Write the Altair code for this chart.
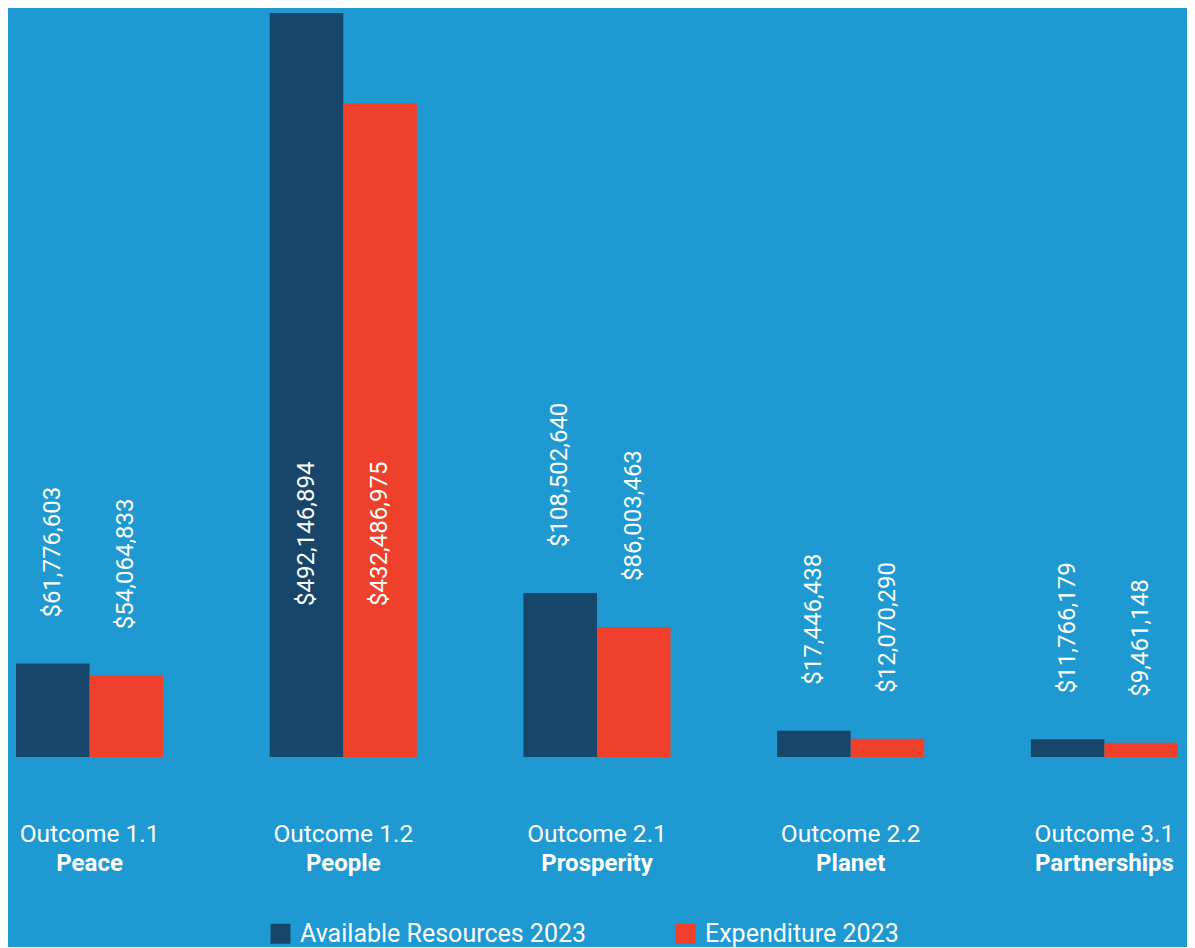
import altair as alt
import pandas as pd

outcomes = ["Outcome 1.1", "Outcome 1.2", "Outcome 2.1", "Outcome 2.2", "Outcome 3.1"]
names = ["Peace", "People", "Prosperity", "Planet", "Partnerships"]
available = [61776603, 492146894, 108502640, 17446438, 11766179]
expenditure = [54064833, 432486975, 86003463, 12070290, 9461148]
series = ["Available Resources 2023", "Expenditure 2023"]
colors = ["#17466a", "#ef402b"]

rows = []
for o, n, a, e in zip(outcomes, names, available, expenditure):
    rows.append(dict(outcome=o, name=n, series=series[0], value=a))
    rows.append(dict(outcome=o, name=n, series=series[1], value=e))
df = pd.DataFrame(rows)
cats = pd.DataFrame({"outcome": outcomes, "name": names})

FONT = "Roboto"
xscale = alt.Scale(domain=outcomes, paddingInner=0.42, paddingOuter=0)
x = alt.X("outcome:N", scale=xscale, axis=None)
xoff = alt.XOffset("series:N", scale=alt.Scale(domain=series, paddingInner=0, paddingOuter=0))
yscale = alt.Scale(domain=[0, 492146894], nice=False, zero=True)

color = alt.Color(
    "series:N",
    scale=alt.Scale(domain=series, range=colors),
    legend=alt.Legend(
        title=None, orient="none", legendX=252, legendY=908,
        direction="horizontal", symbolType="square", symbolSize=400,
        symbolStrokeWidth=0, symbolOpacity=1,
        labelFont=FONT, labelFontSize=25, labelColor="white",
        labelOffset=7, labelLimit=400, columnPadding=86, padding=0,
    ),
)

bars = alt.Chart(df).mark_bar(strokeWidth=0, opacity=1).encode(
    x=x, xOffset=xoff,
    y=alt.Y("value:Q", scale=yscale, axis=None),
    color=color,
)

labels = alt.Chart(df).transform_calculate(
    lab="'$' + format(datum.value, ',')",
    ypos="datum.value > 200000000 ? 69500000 : datum.value",
).mark_text(
    angle=270, align="left", baseline="middle", dx=46,
    font=FONT, fontSize=24, color="white",
).encode(
    x=x, xOffset=xoff,
    y=alt.Y("ypos:Q", scale=yscale, axis=None),
    text="lab:N",
)

cat1 = alt.Chart(cats).mark_text(
    font=FONT, fontSize=24.5, color="white", baseline="alphabetic", align="center"
).encode(x=x, y=alt.value(829), text="outcome:N")

cat2 = alt.Chart(cats).mark_text(
    font=FONT, fontSize=24, fontWeight="bold", color="white", baseline="alphabetic", align="center"
).encode(x=x, y=alt.value(858), text="name:N")

chart = alt.layer(bars, labels, cat1, cat2).properties(
    width=1162, height=744,
    background="#1e99d2",
    padding={"left": 8, "top": 5, "right": 9, "bottom": 0},
).configure_view(stroke=None)

chart.save("out.html", embed_options={"renderer": "svg", "actions": False})
